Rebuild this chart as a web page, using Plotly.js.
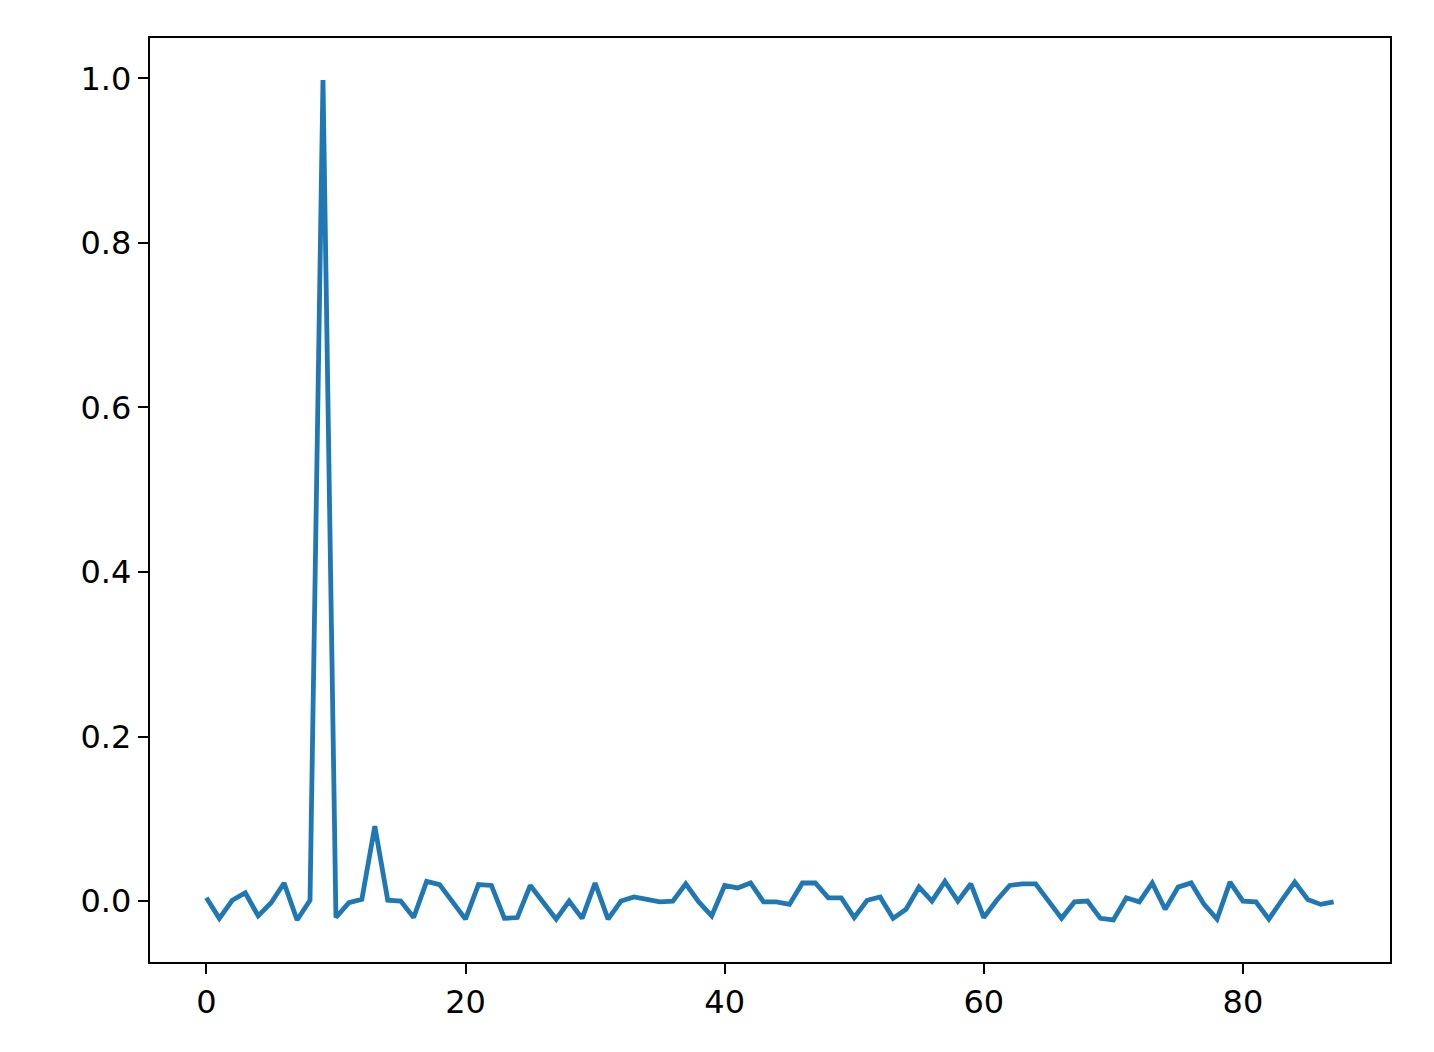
<!DOCTYPE html>
<html>
<head>
<meta charset="utf-8">
<script src="https://cdn.plot.ly/plotly-3.0.1.min.js"></script>
<style>html,body{margin:0;padding:0;background:#fff;}#chart{width:1434px;height:1052px;}</style>
</head>
<body>
<div id="chart"></div>
<script>
const xValues = Array.from({length: 88}, (_, i) => i);
const yValues = [
  0.004, -0.021, 0.001, 0.010, -0.018, -0.002, 0.022, -0.023, 0.001, 0.998,
  -0.020, -0.002, 0.002, 0.091, 0.001, 0.000, -0.020, 0.024, 0.020, 0.000,
  -0.022, 0.020, 0.019, -0.021, -0.020, 0.019, -0.001, -0.022, 0.000, -0.021,
  0.022, -0.022, 0.000, 0.005, 0.002, -0.001, 0.000, 0.021, -0.001, -0.018,
  0.019, 0.016, 0.022, -0.001, -0.001, -0.004, 0.022, 0.022, 0.004, 0.004,
  -0.020, 0.001, 0.005, -0.021, -0.010, 0.017, 0.000, 0.024, 0.000, 0.021,
  -0.020, 0.001, 0.019, 0.021, 0.021, 0.000, -0.021, -0.001, 0.000, -0.021,
  -0.023, 0.004, -0.001, 0.022, -0.010, 0.017, 0.022, -0.004, -0.022, 0.023,
  0.000, -0.001, -0.022, 0.001, 0.023, 0.002, -0.004, -0.001
];
const xTicks = [0, 20, 40, 60, 80];
const yTicks = [0.0, 0.2, 0.4, 0.6, 0.8, 1.0];
const yTickLabels = ['0.0', '0.2', '0.4', '0.6', '0.8', '1.0'];

const axisCommon = {
  showgrid: false, zeroline: false, showline: true, mirror: true,
  linecolor: '#000', linewidth: 2.2, ticks: 'outside', ticklen: 10, tickwidth: 2,
  tickcolor: '#000', tickfont: {family: 'DejaVu Sans', size: 32, color: '#000'}
};
const yMin = Math.min(...yValues), yMax = Math.max(...yValues);
const yPad = (yMax - yMin) * 0.05;
const xPad = (xValues[xValues.length - 1] - xValues[0]) * 0.05;

Plotly.newPlot('chart', [{
  x: xValues, y: yValues, type: 'scatter', mode: 'lines',
  line: {color: '#1f77b4', width: 4.8}
}], {
  width: 1434, height: 1052,
  margin: {l: 150, r: 44, t: 38, b: 90},
  paper_bgcolor: '#fff', plot_bgcolor: '#fff',
  showlegend: false,
  xaxis: Object.assign({}, axisCommon, {
    range: [xValues[0] - xPad, xValues[xValues.length - 1] + xPad],
    tickvals: xTicks, ticktext: xTicks.map(String)
  }),
  yaxis: Object.assign({}, axisCommon, {
    range: [yMin - yPad, yMax + yPad],
    tickvals: yTicks, ticktext: yTickLabels
  })
}, {displayModeBar: false, staticPlot: true});
</script>
</body>
</html>
